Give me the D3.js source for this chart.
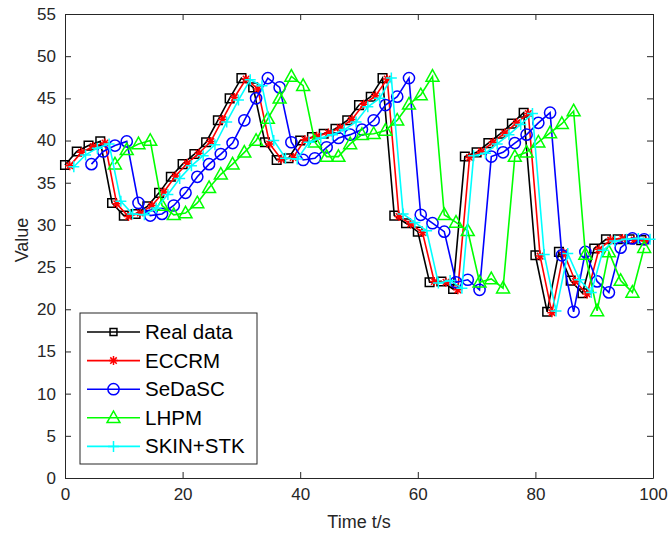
<!DOCTYPE html>
<html>
<head>
<meta charset="utf-8">
<script src="https://cdn.jsdelivr.net/npm/d3@7"></script>
<style>
body { margin: 0; background: #fff; }
text { font-family: Arial, "Liberation Sans", sans-serif; }
</style>
</head>
<body>
<div id="chart"></div>
<script>
// sampling instants of the real data (s)
const sampleTimes = [0, 2, 4, 6, 8, 10, 12, 14, 16, 18, 20, 22, 24, 26, 28, 30, 32, 34, 36, 38,
    40, 42, 44, 46, 48, 50, 52, 54, 56, 58, 60, 62, 64, 66, 68, 70, 72, 74, 76, 78,
    80, 82, 84, 86, 88, 90, 92, 94, 96, 98];

const realData = [37.1, 38.7, 39.4, 39.9, 32.6, 31.1, 31.3, 32.2, 33.8, 35.7,
    37.2, 38.4, 39.8, 42.4, 45.0, 47.4, 46.3, 39.8, 37.7, 37.9,
    40.0, 40.4, 40.8, 41.4, 42.4, 44.2, 45.2, 47.4, 31.1, 30.2,
    29.2, 23.2, 23.3, 22.4, 38.1, 38.6, 39.7, 40.8, 42.0, 43.3,
    26.4, 19.7, 26.8, 23.4, 21.9, 27.2, 28.3, 28.3, 28.3, 28.2];

const eccrm = [37.0, 38.6, 39.3, 39.7, 32.5, 31.0, 31.4, 32.3, 33.9, 35.8,
    37.3, 38.5, 39.9, 42.5, 45.1, 47.3, 46.1, 39.6, 37.8, 38.0,
    40.1, 40.5, 40.9, 41.5, 42.5, 44.3, 45.3, 47.3, 31.0, 30.1,
    29.1, 23.3, 23.2, 22.3, 38.0, 38.7, 39.8, 40.9, 42.1, 43.2,
    26.3, 19.6, 26.7, 23.3, 21.8, 27.1, 28.2, 28.4, 28.2, 28.1];

const sedasc = [37.2, 38.7, 39.4, 39.9, 32.6, 31.1, 31.3, 32.3, 33.8, 35.7,
    37.2, 38.4, 39.7, 42.4, 45.0, 47.4, 46.3, 39.8, 37.7, 37.9,
    39.2, 40.3, 40.7, 41.3, 42.4, 44.2, 45.2, 47.4, 31.2, 30.2,
    29.2, 23.2, 23.5, 22.3, 38.1, 38.6, 39.7, 40.7, 42.1, 43.3,
    26.4, 19.7, 26.8, 23.3, 22.0, 27.3, 28.4, 28.3];

const lhpm = [37.2, 38.9, 39.6, 40.0, 32.3, 31.2, 31.4, 32.6, 34.4, 36.0,
    37.2, 38.6, 40.0, 42.6, 45.0, 47.6, 46.5, 39.8, 38.1, 38.1,
    39.6, 40.7, 40.8, 41.2, 42.4, 44.3, 45.4, 47.6, 31.2, 30.3,
    29.3, 23.2, 23.6, 22.5, 38.1, 38.6, 39.8, 40.9, 42.0, 43.5,
    26.5, 19.8, 26.8, 23.4, 22.0, 27.3];

const skinStk = [36.9, 38.3, 39.1, 39.6, 32.8, 31.3, 31.2, 32.0, 33.6, 35.5,
    37.0, 38.2, 39.5, 42.2, 44.8, 47.2, 46.5, 40.0, 37.9, 37.8,
    39.8, 40.3, 40.7, 41.3, 42.2, 44.0, 45.0, 47.4, 31.3, 30.3,
    29.3, 23.1, 23.4, 22.5, 38.2, 38.5, 39.6, 40.7, 41.9, 43.2,
    26.5, 19.8, 26.6, 23.5, 22.0, 27.0, 28.1, 28.3, 28.4, 28.3];

const seriesNames = ["Real data", "ECCRM", "SeDaSC", "LHPM", "SKIN+STK"];
const seriesValues = [realData, eccrm, sedasc, lhpm, skinStk];
// time lag of each curve behind the sampling instants (s)
const seriesLag = [0, 0.8, 4.5, 8.5, 1.5];
const seriesColors = ["#000000", "#ff0000", "#0000ff", "#00ff00", "#00ffff"];
const seriesMarkers = ["square", "asterisk", "circle", "triangle", "plus"];

const xTicks = [0, 20, 40, 60, 80, 100];
const yTicks = [0, 5, 10, 15, 20, 25, 30, 35, 40, 45, 50, 55];

var margin = {top: 14, right: 15, bottom: 58, left: 65},
    width = 668 - margin.left - margin.right,
    height = 536 - margin.top - margin.bottom;

var svg = d3.select("#chart")
    .append("svg")
    .attr("width", 668)
    .attr("height", 536)
    .append("g")
    .attr("transform", "translate(" + margin.left + "," + margin.top + ")");

var x = d3.scaleLinear().domain([0, 100]).range([0, width]);
var y = d3.scaleLinear().domain([0, 55]).range([height, 0]);

function markerPath(type, s) {
    if (type == "square") {
        return "M" + (-s) + "," + (-s) + "h" + (2 * s) + "v" + (2 * s) + "h" + (-2 * s) + "Z";
    }
    if (type == "circle") {
        return "M" + (-s) + ",0a" + s + "," + s + " 0 1,0 " + (2 * s) + ",0a" + s + "," + s + " 0 1,0 " + (-2 * s) + ",0";
    }
    if (type == "triangle") {
        return "M0," + (-s) + "L" + (s * 0.95) + "," + (s * 0.7) + "L" + (-s * 0.95) + "," + (s * 0.7) + "Z";
    }
    if (type == "plus") {
        return "M" + (-s) + ",0H" + s + "M0," + (-s) + "V" + s;
    }
    // asterisk
    var d = s * 0.72;
    return "M" + (-s) + ",0H" + s + "M0," + (-s) + "V" + s +
        "M" + (-d) + "," + (-d) + "L" + d + "," + d + "M" + (-d) + "," + d + "L" + d + "," + (-d);
}
var markerSize = {square: 4.3, circle: 5.6, triangle: 6.8, plus: 5.5, asterisk: 4.5};

// axes (ticks point inwards, box on)
svg.append("g")
    .attr("transform", "translate(0," + height + ")")
    .call(d3.axisBottom(x).tickValues(xTicks).tickSizeInner(-6).tickSizeOuter(0).tickPadding(10));
svg.append("g")
    .call(d3.axisLeft(y).tickValues(yTicks).tickSizeInner(-6).tickSizeOuter(0).tickPadding(9));
svg.append("g")
    .call(d3.axisTop(x).tickValues(xTicks).tickSizeInner(-6).tickSizeOuter(0).tickFormat(""));
svg.append("g")
    .attr("transform", "translate(" + width + ",0)")
    .call(d3.axisRight(y).tickValues(yTicks).tickSizeInner(-6).tickSizeOuter(0).tickFormat(""));
svg.selectAll(".domain").attr("stroke", "#262626");
svg.selectAll(".tick line").attr("stroke", "#262626");
svg.selectAll(".tick text")
    .style("font-size", "17px")
    .style("fill", "#262626");

svg.append("text")
    .attr("x", width / 2)
    .attr("y", height + 50)
    .attr("text-anchor", "middle")
    .style("font-size", "18px")
    .style("fill", "#262626")
    .text("Time t/s");
svg.append("text")
    .attr("transform", "rotate(-90)")
    .attr("x", 0 - height / 2 + 6)
    .attr("y", -37)
    .attr("text-anchor", "middle")
    .style("font-size", "18px")
    .style("fill", "#262626")
    .text("Value");

// series
var plot = svg.append("g");
seriesValues.forEach(function(vals, k) {
    var pts = vals.map(function(v, i) { return {t: sampleTimes[i] + seriesLag[k], v: v}; });
    plot.append("path")
        .datum(pts)
        .attr("fill", "none")
        .attr("stroke", seriesColors[k])
        .attr("stroke-width", 1.6)
        .attr("d", d3.line().x(function(d) { return x(d.t); }).y(function(d) { return y(d.v); }));
    plot.append("g")
        .selectAll("path")
        .data(pts)
        .enter()
        .append("path")
        .attr("transform", function(d) { return "translate(" + x(d.t) + "," + y(d.v) + ")"; })
        .attr("d", markerPath(seriesMarkers[k], markerSize[seriesMarkers[k]]))
        .attr("fill", "none")
        .attr("stroke", seriesColors[k])
        .attr("stroke-width", 1.5);
});

// legend
var legend = svg.append("g").attr("transform", "translate(15,299)");
legend.append("rect")
    .attr("width", 177)
    .attr("height", 151)
    .attr("fill", "#fff")
    .attr("stroke", "#262626")
    .attr("stroke-width", 1);
seriesNames.forEach(function(name, k) {
    var row = legend.append("g").attr("transform", "translate(0," + (19 + k * 28.6) + ")");
    row.append("line")
        .attr("x1", 7).attr("x2", 60)
        .attr("stroke", seriesColors[k])
        .attr("stroke-width", 1.6);
    row.append("path")
        .attr("transform", "translate(33.5,0)")
        .attr("d", markerPath(seriesMarkers[k], markerSize[seriesMarkers[k]] * (k == 0 ? 0.8 : 1)))
        .attr("fill", "none")
        .attr("stroke", seriesColors[k])
        .attr("stroke-width", 1.5);
    row.append("text")
        .attr("x", 65)
        .attr("y", 7)
        .style("font-size", "20.5px")
        .style("fill", "#000")
        .text(name);
});
</script>
</body>
</html>
